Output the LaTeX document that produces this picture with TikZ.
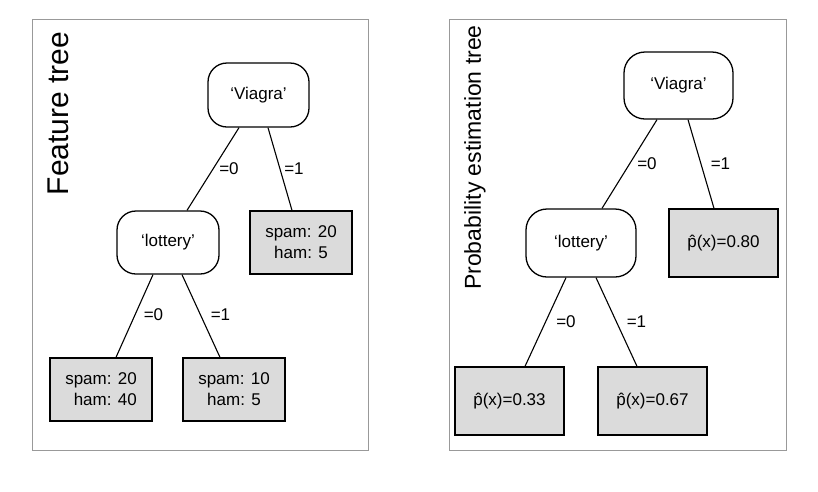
\documentclass[tikz,border=0pt]{standalone}
\usepackage{fontspec}
\setmainfont{Liberation Sans}
\begin{document}
\begin{tikzpicture}[x=1pt,y=-1pt,
  frame/.style={draw=black!40,line width=0.8pt},
  test/.style={draw,line width=1.3pt,rounded corners=19pt,fill=white,inner sep=0pt,
    font=\fontsize{17}{21}\selectfont},
  leaf/.style={draw,line width=1.3pt,fill=black!14,inner sep=0pt,align=center,
    font=\fontsize{17}{21}\selectfont},
  edge/.style={line width=1.1pt},
  lab/.style={inner sep=0pt,font=\fontsize{17}{21}\selectfont},
  title/.style={rotate=90,inner sep=0pt}]
\useasboundingbox (0,0) rectangle (818,491);
\fill[white] (0,0) rectangle (818,491);
% ---------- left panel
\draw[frame] (32,19) rectangle (368,450);
\node[title,font=\fontsize{30}{34}\selectfont] (t1) at (58,113.5) {Feature tree};
\node[test,minimum width=101pt,minimum height=64pt] (v1) at (258.5,95) {‘Viagra’};
\node[test,minimum width=102pt,minimum height=63pt] (l1) at (168,242.5) {‘lottery’};
\node[leaf,minimum width=102pt,minimum height=63pt] (r1) at (301,242.5) {spam: 20\\ham: 5};
\node[leaf,align=right,minimum width=102pt,minimum height=63pt] (a1) at (101,389.5) {spam: 20\\ham: 40};
\node[leaf,minimum width=102pt,minimum height=63pt] (b1) at (234,389.5) {spam: 10\\ham: 5};
\draw[edge] ([xshift=-19.5pt]v1.south) -- ([xshift=19pt]l1.north);
\draw[edge] ([xshift=9.5pt]v1.south) -- ([xshift=-9pt]r1.north);
\draw[edge] ([xshift=-15pt]l1.south) -- ([xshift=15pt]a1.north);
\draw[edge] ([xshift=14pt]l1.south) -- ([xshift=-14pt]b1.north);
\node[lab] (e1) at (229,169) {=0};
\node[lab] (e2) at (294,169) {=1};
\node[lab] (e3) at (153.5,315) {=0};
\node[lab] (e4) at (220.5,315) {=1};
% ---------- right panel
\draw[frame] (449,19) rectangle (786,450);
\node[title,font=\fontsize{23}{27}\selectfont] (t2) at (475,157.5) {Probability estimation tree};
\node[test,rounded corners=21pt,minimum width=109pt,minimum height=67pt] (v2) at (678.5,85.5) {‘Viagra’};
\node[test,rounded corners=21pt,minimum width=110pt,minimum height=68pt] (l2) at (581,243) {‘lottery’};
\node[leaf,minimum width=109pt,minimum height=68pt] (r2) at (723.5,243) {\^{p}(x)=0.80};
\node[leaf,minimum width=109pt,minimum height=68pt] (a2) at (509.5,401) {\^{p}(x)=0.33};
\node[leaf,minimum width=109pt,minimum height=68pt] (b2) at (652.5,401) {\^{p}(x)=0.67};
\draw[edge] ([xshift=-21.5pt]v2.south) -- ([xshift=21pt]l2.north);
\draw[edge] ([xshift=9.5pt]v2.south) -- ([xshift=-9.5pt]r2.north);
\draw[edge] ([xshift=-15pt]l2.south) -- ([xshift=15.5pt]a2.north);
\draw[edge] ([xshift=15pt]l2.south) -- ([xshift=-15.5pt]b2.north);
\node[lab] (f1) at (647,164) {=0};
\node[lab] (f2) at (720.5,164) {=1};
\node[lab] (f3) at (566,322) {=0};
\node[lab] (f4) at (636.5,322) {=1};
\end{tikzpicture}
\end{document}
